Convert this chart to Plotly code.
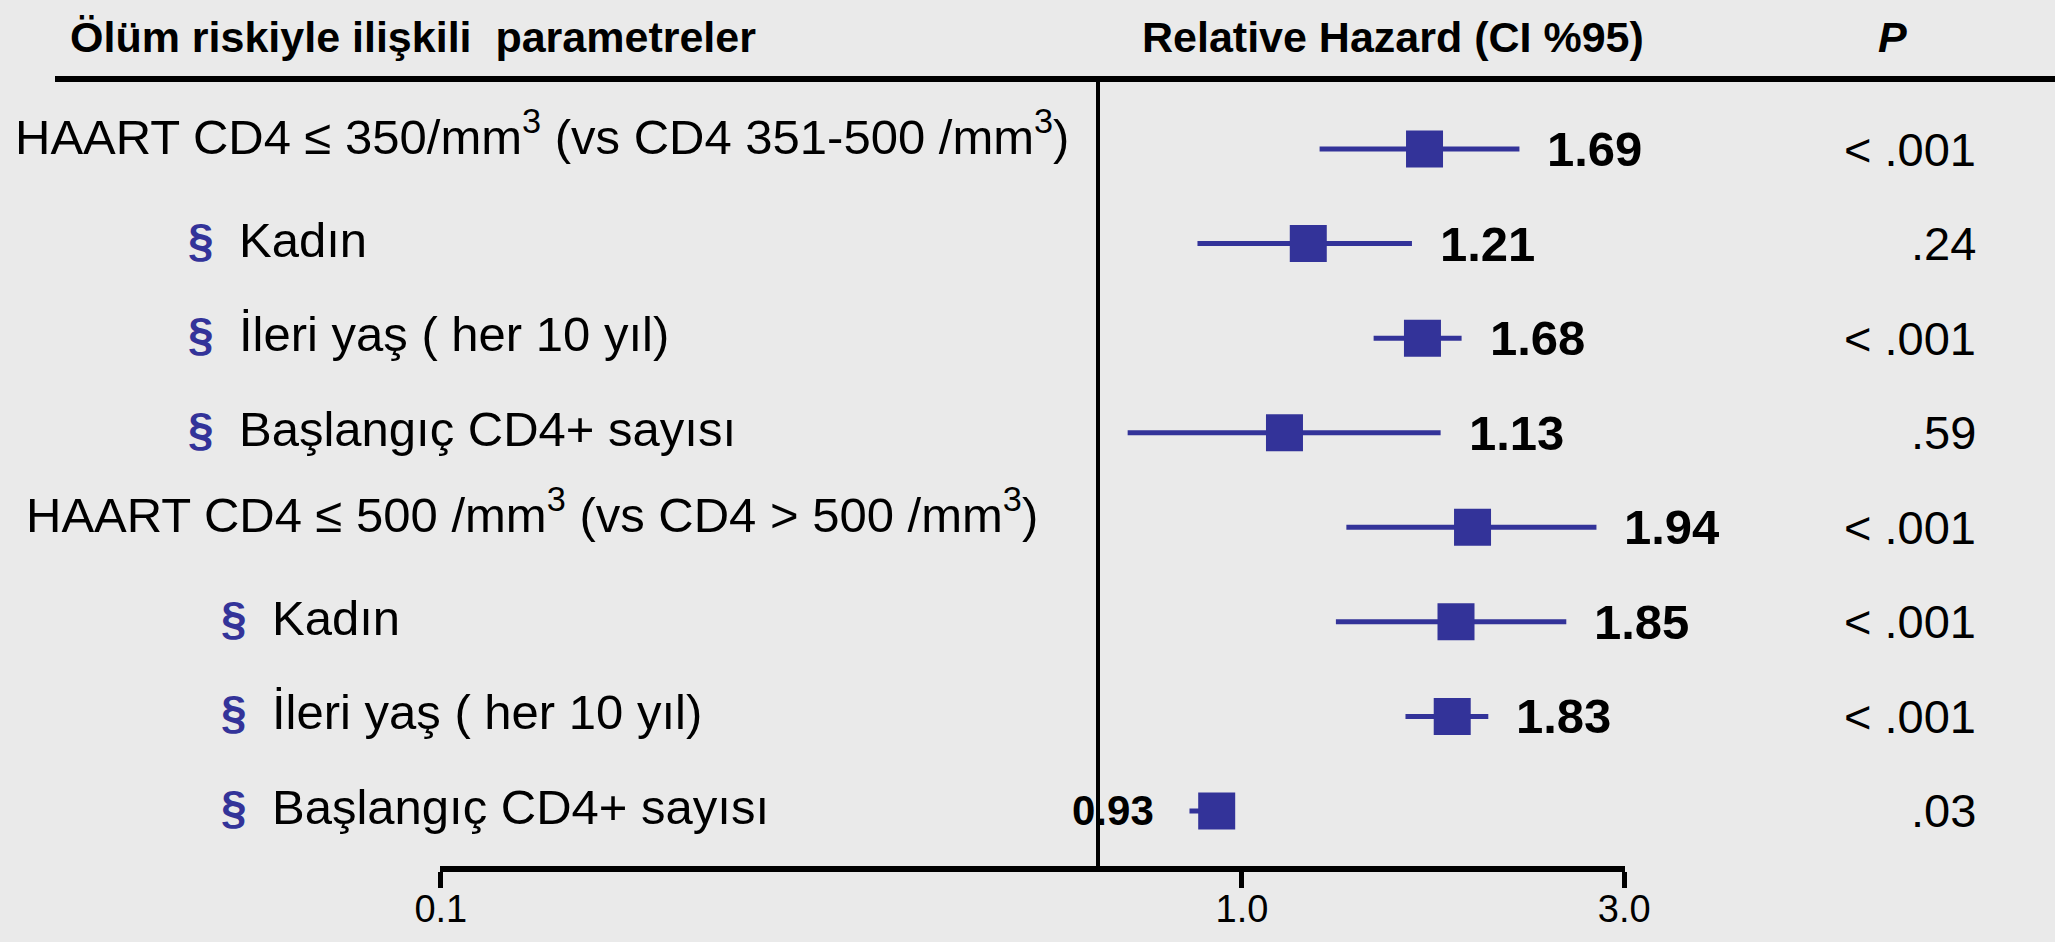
import numpy as np
import plotly.graph_objects as go

# ---------------- data ----------------
labels = [
    "HAART CD4 ≤ 350/mm<sup>3</sup> (vs CD4 351-500 /mm<sup>3</sup>)",
    "Kadın",
    "İleri yaş ( her 10 yıl)",
    "Başlangıç CD4+ sayısı",
    "HAART CD4 ≤ 500 /mm<sup>3</sup> (vs CD4 &gt; 500 /mm<sup>3</sup>)",
    "Kadın",
    "İleri yaş ( her 10 yıl)",
    "Başlangıç CD4+ sayısı",
]
level = [0, 1, 1, 1, 0, 1, 1, 1]          # 0 = main parameter, 1 = sub item (§)
group = [0, 0, 0, 0, 1, 1, 1, 1]
hr = [1.69, 1.21, 1.68, 1.13, 1.94, 1.85, 1.83, 0.93]
ci_lo = [1.25, 0.88, 1.46, 0.72, 1.35, 1.31, 1.60, 0.86]
ci_hi = [2.22, 1.63, 1.88, 1.77, 2.77, 2.54, 2.03, 0.98]
hr_text = ["1.69", "1.21", "1.68", "1.13", "1.94", "1.85", "1.83", "0.93"]
p_text = ["&lt; .001", ".24", "&lt; .001", ".59", "&lt; .001", "&lt; .001", "&lt; .001", ".03"]
tick_vals = [0.1, 1.0, 3.0]
tick_text = ["0.1", "1.0", "3.0"]
header_left = "Ölüm riskiyle ilişkili  parametreler"
header_mid = "Relative Hazard (CI %95)"
header_right = "P"

# ---------------- layout geometry (pixels) ----------------
W, H = 2055, 942
L, R, T, B = 440, 430, 79, 76
PW = W - L - R
PH = H - T - B
ROW0, ROWSTEP = 149, 94.57
MAIN_X = [13, 24]
SECT_X = [186, 219]
SUB_X = [237, 270]
P_RIGHT = 1978
SEP_X = 1098
TOPLINE_X0 = 55


def px_x(px):
    return (px - L) / PW


def px_y(py):
    return (H - B - py) / PH


n = len(hr)
rows = list(range(n))
y_top = (T - ROW0) / ROWSTEP
y_bot = (H - B - ROW0) / ROWSTEP

BLUE = "#333399"
BG = "#EAEAEA"
FONT = "Liberation Sans, Arial, Helvetica, sans-serif"

fig = go.Figure()
fig.add_trace(go.Scatter(
    x=hr, y=rows, mode="markers",
    marker=dict(symbol="square", size=37, color=BLUE, line=dict(width=0)),
    error_x=dict(type="data", symmetric=False,
                 array=[h - m for h, m in zip(ci_hi, hr)],
                 arrayminus=[m - l for m, l in zip(hr, ci_lo)],
                 color=BLUE, thickness=5, width=0),
    hoverinfo="skip", showlegend=False,
))

ann = []
MAIN_SHIFT = 16
SUB_SHIFT = 4
for i in range(n):
    g = group[i]
    if level[i] == 0:
        ann.append(dict(x=px_x(MAIN_X[g]), xref="paper", y=rows[i], yref="y",
                        text=labels[i], xanchor="left", yanchor="middle",
                        yshift=MAIN_SHIFT, showarrow=False,
                        font=dict(size=49, color="black", family=FONT)))
    else:
        ann.append(dict(x=px_x(SECT_X[g]), xref="paper", y=rows[i], yref="y",
                        text="<b>§</b>", xanchor="left", yanchor="middle",
                        yshift=SUB_SHIFT, showarrow=False,
                        font=dict(size=46, color=BLUE, family=FONT)))
        ann.append(dict(x=px_x(SUB_X[g]), xref="paper", y=rows[i], yref="y",
                        text=labels[i], xanchor="left", yanchor="middle",
                        yshift=SUB_SHIFT, showarrow=False,
                        font=dict(size=49, color="black", family=FONT)))
    # hazard value labels
    if hr[i] >= 1:
        ann.append(dict(x=np.log10(ci_hi[i]), xref="x", y=rows[i], yref="y",
                        text="<b>" + hr_text[i] + "</b>", xanchor="left",
                        yanchor="middle", xshift=26, showarrow=False,
                        font=dict(size=49, color="black", family=FONT)))
    else:
        ann.append(dict(x=np.log10(ci_lo[i]), xref="x", y=rows[i], yref="y",
                        text="<b>" + hr_text[i] + "</b>", xanchor="right",
                        yanchor="middle", xshift=-33, showarrow=False,
                        font=dict(size=42, color="black", family=FONT)))
    # p values
    ann.append(dict(x=px_x(P_RIGHT), xref="paper", y=rows[i], yref="y",
                    text=p_text[i], xanchor="right", yanchor="middle",
                    showarrow=False,
                    font=dict(size=47, color="black", family=FONT)))

# headers
ann.append(dict(x=px_x(68), xref="paper", y=px_y(37), yref="paper",
                text="<b>" + header_left + "</b>", xanchor="left", yanchor="middle",
                showarrow=False, font=dict(size=43, color="black", family=FONT)))
ann.append(dict(x=px_x(1393), xref="paper", y=px_y(37), yref="paper",
                text="<b>" + header_mid + "</b>", xanchor="center", yanchor="middle",
                showarrow=False, font=dict(size=43, color="black", family=FONT)))
ann.append(dict(x=px_x(1892), xref="paper", y=px_y(37), yref="paper",
                text="<b><i>" + header_right + "</i></b>", xanchor="center",
                yanchor="middle", showarrow=False,
                font=dict(size=43, color="black", family=FONT)))

shapes = [
    dict(type="line", xref="paper", yref="paper",
         x0=px_x(TOPLINE_X0), x1=px_x(W), y0=px_y(T), y1=px_y(T),
         line=dict(color="black", width=6)),
    dict(type="line", xref="paper", yref="paper",
         x0=px_x(SEP_X), x1=px_x(SEP_X), y0=px_y(T), y1=px_y(H - B),
         line=dict(color="black", width=4)),
]

eps = 0.001
fig.update_layout(
    width=W, height=H, autosize=False,
    margin=dict(l=L, r=R, t=T, b=B, pad=0, autoexpand=False),
    paper_bgcolor=BG, plot_bgcolor=BG,
    annotations=ann, shapes=shapes,
    font=dict(family=FONT, color="black"),
    xaxis=dict(type="log", range=[np.log10(tick_vals[0]) - eps, np.log10(tick_vals[-1]) + eps],
               tickvals=tick_vals, ticktext=tick_text, automargin=False,
               showline=True, linewidth=6, linecolor="black",
               ticks="outside", ticklen=16, tickwidth=5, tickcolor="black",
               ticklabelstandoff=-12,
               showgrid=False, zeroline=False,
               tickfont=dict(size=38, color="black", family=FONT)),
    yaxis=dict(range=[y_bot, y_top], visible=False, showgrid=False, zeroline=False,
               automargin=False),
    showlegend=False,
)

fig.write_html("out.html", config={"displayModeBar": False})
